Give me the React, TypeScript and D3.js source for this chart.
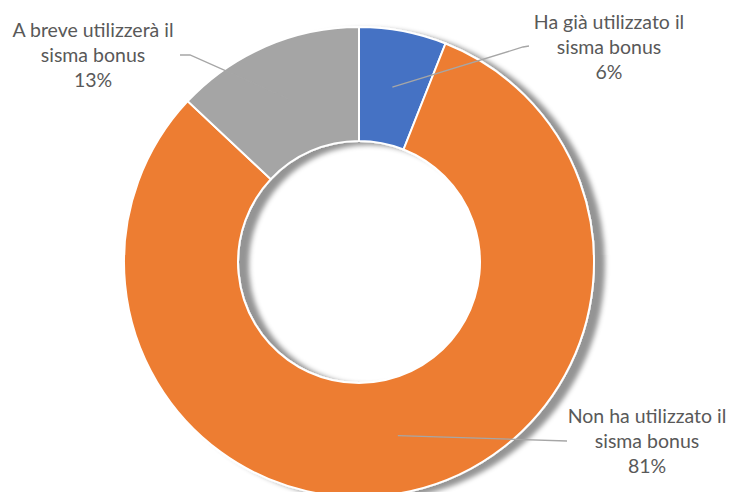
import React from "react";
import * as d3 from "d3";

const categories = [
  "Ha già utilizzato il sisma bonus",
  "Non ha utilizzato il sisma bonus",
  "A breve utilizzerà il sisma bonus",
];
const labelLines = [
  ["Ha già utilizzato il", "sisma bonus"],
  ["Non ha utilizzato il", "sisma bonus"],
  ["A breve utilizzerà il", "sisma bonus"],
];
const values = [6, 81, 13];
const colors = ["#4472c4", "#ed7d31", "#a5a5a5"];

// layout for labels (text center x, first baseline y) and leader elbow points
const labelLayout = [
  { tx: 609, ty: 29, elbow: [523, 47], end: [529, 46] },
  { tx: 647, ty: 423, elbow: [567, 441], end: [567, 441] },
  { tx: 93, ty: 37, elbow: [190, 55], end: [180, 55] },
];

const W = 736;
const H = 492;
const cx = 359;
const cy = 262;
const rOuter = 235;
const rInner = 121;

export default function App() {
  const pie = d3
    .pie<number>()
    .sort(null)
    .value((d) => d)
    .startAngle(0)
    .endAngle(2 * Math.PI);
  const arcs = pie(values);
  const arc = d3
    .arc<d3.PieArcDatum<number>>()
    .innerRadius(rInner)
    .outerRadius(rOuter);
  const total = d3.sum(values);
  const lineH = 25;

  return (
    <svg
      width={W}
      height={H}
      style={{ position: "absolute", left: 0, top: 0, background: "#fff" }}
    >
      <defs>
        <filter id="sh" x="-20%" y="-20%" width="140%" height="140%">
          <feDropShadow dx="10" dy="3" stdDeviation="2.5" floodColor="#000" floodOpacity="0.42" />
        </filter>
      </defs>
      <g transform={`translate(${cx},${cy})`} filter="url(#sh)">
        {arcs.map((a, i) => (
          <path key={i} d={arc(a) || ""} fill={colors[i]} stroke="#fff" strokeWidth={2} />
        ))}
      </g>
      {arcs.map((a, i) => {
        const [mx, my] = arc.centroid(a);
        const L = labelLayout[i];
        return (
          <polyline
            key={"l" + i}
            points={`${cx + mx},${cy + my} ${L.elbow[0]},${L.elbow[1]} ${L.end[0]},${L.end[1]}`}
            fill="none"
            stroke="#a6a6a6"
            strokeWidth={1.3}
          />
        );
      })}
      {arcs.map((a, i) => {
        const L = labelLayout[i];
        const pct = Math.round((values[i] / total) * 100) + "%";
        const lines = [...labelLines[i], pct];
        return (
          <text
            key={"t" + i}
            textAnchor="middle"
            fontFamily="Lato, 'Open Sans', sans-serif"
            fontSize={19.5}
            fill="#595959"
          >
            {lines.map((s, j) => (
              <tspan key={j} x={L.tx} y={L.ty + j * lineH}>
                {s}
              </tspan>
            ))}
          </text>
        );
      })}
    </svg>
  );
}
